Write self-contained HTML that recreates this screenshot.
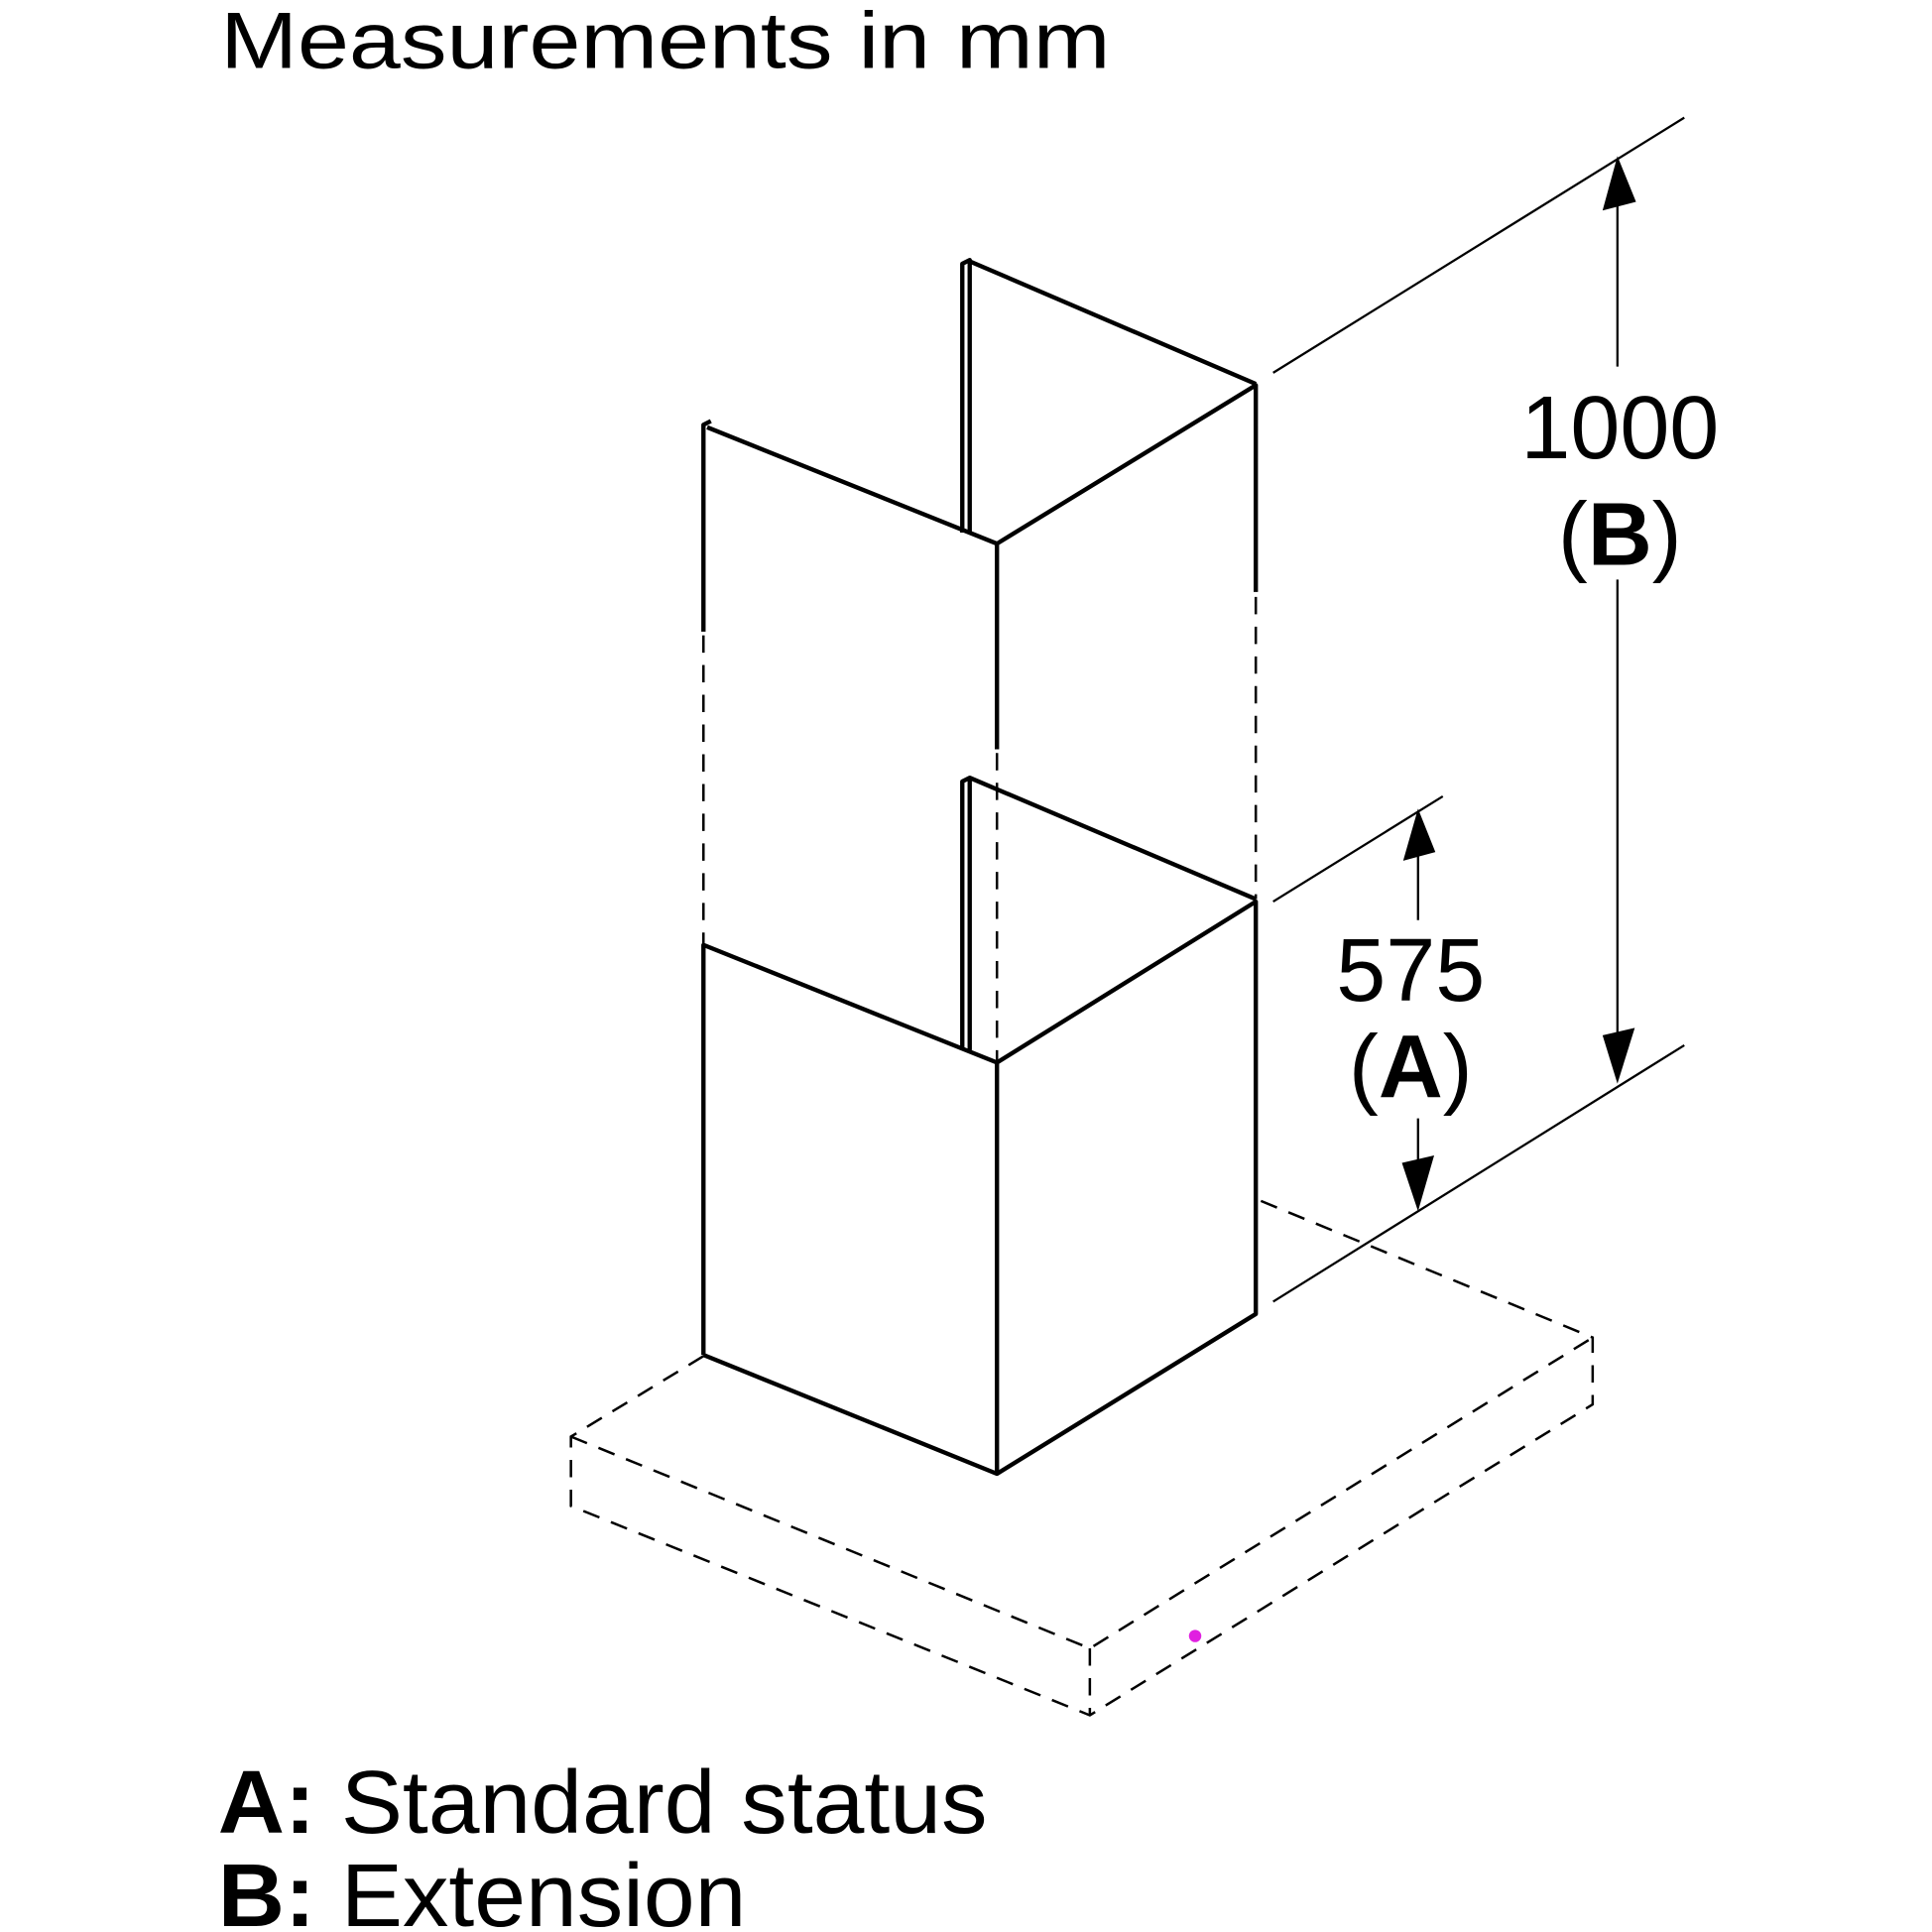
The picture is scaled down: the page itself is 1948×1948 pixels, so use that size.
<!DOCTYPE html>
<html><head><style>html,body{margin:0;padding:0;background:#fff}svg{display:block}</style></head>
<body>
<svg width="1948" height="1948" viewBox="0 0 1560 1560" xmlns="http://www.w3.org/2000/svg" font-family="Liberation Sans, sans-serif">
<rect width="1560" height="1560" fill="#fff"/>
<text transform="translate(178,55) scale(1.15,1)" font-size="65">Measurements in mm</text>
<g stroke="#000" fill="none" stroke-width="3.5" stroke-linejoin="round">
<path d="M568,1094 L568,763 L805,858 L805,1190 L568,1094 M805,858 L1014,728 L1014,1061 L805,1190"/>
<path d="M777,848 L777,631 L783,628 L783,848 M783,628 L1014,726"/>
<path d="M568,510 L568,343 L574,340 M571,345 L805,439 L1014,311 L1014,478 M805,439 L805,605"/>
<path d="M777,430 L777,213 L783,210 L783,430 M783,211 L1014,310"/>
</g>
<g stroke="#000" fill="none" stroke-width="2" stroke-dasharray="14,10">
<path d="M568,513 L568,763 M805,608 L805,856 M1014,482 L1014,726"/>
<path d="M568,1095 L461,1160 L461,1216 L880,1385 L1286,1134 L1286,1080 L1014,968"/>
<path d="M461,1160 L880,1331 L1286,1080 M880,1331 L880,1385"/>
</g>
<g stroke="#000" stroke-width="1.8" fill="none">
<path d="M1028,301 L1360,95 M1028,1051 L1360,844 M1028,728 L1165,643"/>
<path d="M1306,150 L1306,296 M1306,468 L1306,853 M1145,678 L1145,743 M1145,903 L1145,958"/>
</g>
<g fill="#000">
<polygon points="1306,126 1321,163 1294,170"/>
<polygon points="1306,875 1294,836 1320,830"/>
<polygon points="1145,653 1159,688 1133,695"/>
<polygon points="1145,978 1132,939 1158,933"/>
</g>
<text x="1308" y="370" font-size="72" text-anchor="middle">1000</text>
<text x="1308" y="456" font-size="72" text-anchor="middle">(<tspan font-weight="bold">B</tspan>)</text>
<text x="1139" y="808" font-size="72" text-anchor="middle">575</text>
<text x="1139" y="886" font-size="72" text-anchor="middle">(<tspan font-weight="bold">A</tspan>)</text>
<circle cx="965" cy="1321" r="5" fill="#e020e0"/>
<text transform="translate(176,1480) scale(1.035,1)" font-size="72"><tspan font-weight="bold">A:</tspan> Standard status</text>
<text transform="translate(176,1555) scale(1.035,1)" font-size="72"><tspan font-weight="bold">B:</tspan> Extension</text>
</svg>
</body></html>
